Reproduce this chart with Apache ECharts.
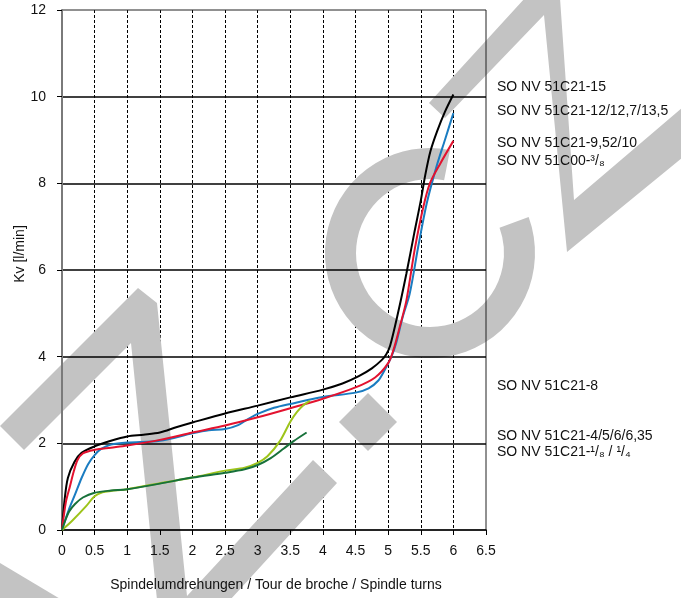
<!DOCTYPE html>
<html><head><meta charset="utf-8">
<script src="https://cdn.jsdelivr.net/npm/echarts@6/dist/echarts.min.js"></script>
<style>html,body{margin:0;padding:0;background:#fff}#c{width:681px;height:598px}</style>
</head><body><div id="c"></div>
<script>
// ---- data ----
const xMin = 0, xMax = 6.5, xStep = 0.5;
const yMin = 0, yMax = 12, yStep = 2;
const seriesNames = ['SO NV 51C21-15', 'SO NV 51C21-12/12,7/13,5', 'SO NV 51C21-9,52/10', 'SO NV 51C21-8', 'SO NV 51C21-4/5/6/6,35'];
const blackCurve = [[0,0],[0.04,0.7],[0.09,1.2],[0.19,1.57],[0.3,1.78],[0.5,1.93],[0.75,2.06],[1,2.16],[1.25,2.2],[1.5,2.25],[1.75,2.37],[2,2.48],[2.5,2.69],[3,2.87],[3.5,3.06],[4,3.24],[4.3,3.38],[4.55,3.55],[4.75,3.73],[4.9,3.92],[4.97,4.05],[5.03,4.25],[5.15,5.0],[5.28,5.92],[5.4,6.85],[5.5,7.6],[5.57,8.2],[5.65,8.75],[5.75,9.2],[5.87,9.65],[6.0,10.05]];
const blueCurve = [[0,0],[0.1,0.45],[0.2,0.82],[0.3,1.2],[0.4,1.52],[0.5,1.73],[0.6,1.87],[0.75,1.97],[1,2.02],[1.5,2.06],[2,2.23],[2.25,2.3],[2.5,2.33],[2.7,2.42],[2.85,2.56],[3,2.68],[3.25,2.82],[3.5,2.91],[4,3.07],[4.5,3.17],[4.7,3.27],[4.85,3.45],[4.95,3.7],[5.05,4.0],[5.12,4.3],[5.22,4.9],[5.33,5.45],[5.46,6.53],[5.59,7.53],[5.74,8.38],[5.87,9.0],[6.0,9.62]];
const redCurve = [[0,0],[0.06,0.65],[0.12,1.0],[0.18,1.35],[0.24,1.62],[0.32,1.77],[0.5,1.85],[0.75,1.9],[1,1.95],[1.5,2.08],[2,2.25],[2.5,2.41],[3,2.6],[3.5,2.81],[4,3.03],[4.5,3.29],[4.8,3.52],[5.0,3.85],[5.08,4.15],[5.18,4.7],[5.28,5.3],[5.41,6.5],[5.54,7.46],[5.64,8.0],[5.8,8.46],[6.0,8.98]];
const lightGreenCurve = [[0,0],[0.16,0.22],[0.37,0.55],[0.5,0.78],[0.62,0.87],[0.75,0.9],[1,0.94],[1.5,1.08],[2,1.21],[2.5,1.37],[2.8,1.44],[3,1.55],[3.15,1.7],[3.34,2.05],[3.5,2.5],[3.6,2.72],[3.7,2.88],[3.8,2.98]];
const darkGreenCurve = [[0,0],[0.05,0.22],[0.11,0.43],[0.2,0.6],[0.32,0.75],[0.5,0.86],[0.75,0.91],[1,0.94],[1.5,1.07],[2,1.21],[2.5,1.32],[2.8,1.4],[3,1.5],[3.2,1.66],[3.4,1.88],[3.55,2.05],[3.75,2.25]];
const rightLabels = ['SO NV 51C21-15', 'SO NV 51C21-12/12,7/13,5', 'SO NV 51C21-9,52/10', 'SO NV 51C00-\u00B3/\u2088', 'SO NV 51C21-8', 'SO NV 51C21-4/5/6/6,35', 'SO NV 51C21-\u00B9/\u2088 / \u00B9/\u2084'];
const yAxisTitle = 'Kv [l/min]';
const xAxisTitle = 'Spindelumdrehungen / Tour de broche / Spindle turns';

// ---- layout / style ----
const FONT = '"Liberation Sans", Arial, sans-serif';
const colors = ['#000000', '#1a7cc1', '#e3122f', '#9dc41a', '#17713a'];
const curves = [blackCurve, blueCurve, redCurve, lightGreenCurve, darkGreenCurve];
const labelY = [87, 111, 143, 161, 386, 436, 452];
const WM = '#c3c3c3';

const chart = echarts.init(document.getElementById('c'), null, {renderer: 'canvas'});
const wm = [
  {type: 'polygon', z: 1, silent: true, shape: {points: [[0,426],[138,288],[157,303],[187,596],[313,460],[337,483],[230,600],[157,600],[131,343],[24,450]]}, style: {fill: WM}},
  {type: 'polygon', z: 1, silent: true, shape: {points: [[0,563],[62,600],[0,600]]}, style: {fill: WM}},
  {type: 'polygon', z: 1, silent: true, shape: {points: [[368,393],[397,422],[368,451],[339,422]]}, style: {fill: WM}},
  {type: 'polygon', z: 1, silent: true, shape: {points: [[429,103],[525,-2],[560,-2],[574,200],[683,107],[683,157],[567,252],[544,15],[445,118]]}, style: {fill: WM}},
  {type: 'sector', z: 1, silent: true, shape: {cx: 430, cy: 253, r0: 74, r: 105, startAngle: -20 * Math.PI / 180, endAngle: 281 * Math.PI / 180, clockwise: true}, style: {fill: WM}}
];
const texts = rightLabels.map((t, i) => ({
  type: 'text', z: 10, silent: true, x: 497, y: labelY[i],
  style: {text: t, font: '14px ' + FONT, fill: '#111', textVerticalAlign: 'middle', verticalAlign: 'middle'}
}));
texts.push({type: 'text', z: 10, silent: true, x: 20, y: 254, rotation: Math.PI / 2,
  style: {text: yAxisTitle, font: '14px ' + FONT, fill: '#111', textAlign: 'center', align: 'center', textVerticalAlign: 'middle', verticalAlign: 'middle'}});
texts.push({type: 'text', z: 10, silent: true, x: 276, y: 585,
  style: {text: xAxisTitle, font: '14px ' + FONT, fill: '#111', textAlign: 'center', align: 'center', textVerticalAlign: 'middle', verticalAlign: 'middle'}});

const option = {
  animation: false,
  backgroundColor: '#fff',
  grid: {left: 62, right: 195, top: 10, bottom: 68, show: true, borderColor: '#222', borderWidth: 1, z: 3, backgroundColor: 'transparent'},
  xAxis: [
    {type: 'value', min: xMin, max: xMax, interval: xStep, z: 0,
      axisLine: {show: false}, axisTick: {show: false}, axisLabel: {show: false},
      splitLine: {show: true, showMinLine: false, showMaxLine: false, lineStyle: {color: '#000', width: 1, type: [3, 2]}}},
    {type: 'value', min: xMin, max: xMax, interval: xStep, z: 4, position: 'bottom',
      axisLine: {show: true, onZero: false, lineStyle: {color: '#000', width: 1.5}},
      axisTick: {show: true, length: 5, lineStyle: {color: '#000'}},
      axisLabel: {show: true, margin: 14, fontSize: 14, fontFamily: FONT, color: '#111'},
      splitLine: {show: false}}
  ],
  yAxis: {type: 'value', min: yMin, max: yMax, interval: yStep, z: 4,
    axisLine: {show: true, lineStyle: {color: '#7a7a7a', width: 2}},
    axisTick: {show: true, length: 5, lineStyle: {color: '#000'}},
    axisLabel: {show: true, margin: 16, fontSize: 14, fontFamily: FONT, color: '#111'},
    splitLine: {show: true, showMinLine: false, showMaxLine: false, lineStyle: {color: '#000', width: 1.6}}},
  graphic: wm.concat(texts),
  series: curves.map((d, i) => ({
    name: seriesNames[i], type: 'line', data: d, xAxisIndex: 1, z: 6,
    showSymbol: false, symbol: 'none', smooth: 0.3,
    lineStyle: {color: colors[i], width: 2}, itemStyle: {color: colors[i]}
  }))
};
chart.setOption(option);
</script></body></html>
